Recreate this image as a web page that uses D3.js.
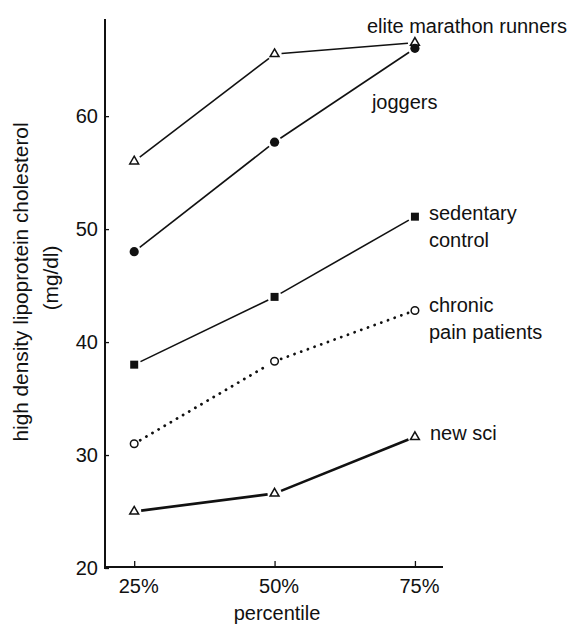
<!DOCTYPE html>
<html>
<head>
<meta charset="utf-8">
<script src="https://cdn.jsdelivr.net/npm/d3@7/dist/d3.min.js"></script>
<style>
  html, body { margin: 0; padding: 0; background: #fff; }
  svg { display: block; }
  text { font-family: "Liberation Sans", Arial, Helvetica, sans-serif; fill: #111; }
</style>
</head>
<body>
<svg id="chart" width="574" height="627"></svg>
<script>
// ---- data ----
const percentiles = [25, 50, 75];
const xTickLabels = ["25%", "50%", "75%"];
const yTicks = [20, 30, 40, 50, 60];
const elite = [56, 65.5, 66.5];
const joggers = [48, 57.7, 66];
const sedentary = [38, 44, 51.1];
const chronic = [31, 38.3, 42.8];
const newSci = [25, 26.6, 31.6];
const seriesNames = ["elite marathon runners", "joggers", "sedentary control", "chronic pain patients", "new sci"];

const series = [
  { values: elite,     marker: "triOpen",  dash: null, width: 1.6, label: ["elite marathon runners"], lx: -48, ly: -10 },
  { values: joggers,   marker: "circle",   dash: null, width: 1.6, label: ["joggers"], lx: -43, ly: 61 },
  { values: sedentary, marker: "square",   dash: null, width: 1.6, label: ["sedentary", "control"], lx: 14, ly: 3 },
  { values: chronic,   marker: "circOpen", dash: "0.1 7", width: 2.8, label: ["chronic", "pain patients"], lx: 14, ly: 2 },
  { values: newSci,    marker: "triOpen",  dash: null, width: 2.6, label: ["new sci"], lx: 15, ly: 3 }
];

const svg = d3.select("#chart");
const x = d3.scaleLinear().domain([19.8, 80]).range([105, 443]);
const y = d3.scaleLinear().domain([20, 68.6]).range([568, 19]);

// ---- axes ----
const yAxis = d3.axisLeft(y).tickValues(yTicks).tickSizeInner(-4).tickSizeOuter(0).tickPadding(7);
const gy = svg.append("g").attr("transform", "translate(105,0)").call(yAxis);
gy.select(".domain").attr("stroke", "#111").attr("stroke-width", 2).attr("d", `M0,${y.range()[1]}V${y.range()[0] + 1}`);
gy.selectAll(".tick line").attr("stroke", "#111").attr("stroke-width", 1.3);
gy.selectAll(".tick text").style("font-size", "20px").style("font-family", "Liberation Sans, Arial, sans-serif").attr("fill", "#111");

const xAxis = d3.axisBottom(x).tickValues(percentiles).tickFormat((d, i) => xTickLabels[i])
  .tickSizeInner(-6).tickSizeOuter(0).tickPadding(12);
const gx = svg.append("g").attr("transform", "translate(0,567)").call(xAxis);
gx.select(".domain").attr("stroke", "#111").attr("stroke-width", 2).attr("d", `M${x.range()[0]},0H${x.range()[1]}`);
gx.selectAll(".tick line").attr("stroke", "#111").attr("stroke-width", 1.3);
gx.selectAll(".tick text").style("font-size", "20px").style("font-family", "Liberation Sans, Arial, sans-serif").attr("fill", "#111").attr("dx", 4);

// axis titles
svg.append("text").attr("x", 277).attr("y", 620).attr("text-anchor", "middle").style("font-size", "20px").text("percentile");
svg.append("text").attr("transform", "translate(28,282) rotate(-90)").attr("text-anchor", "middle").style("font-size", "20.8px")
  .text("high density lipoprotein cholesterol");
svg.append("text").attr("transform", "translate(58,278) rotate(-90)").attr("text-anchor", "middle").style("font-size", "20.8px")
  .text("(mg/dl)");

// ---- series lines (segments shortened near markers) ----
const gap = 7;
series.forEach(s => {
  const pts = percentiles.map((p, i) => [x(p), y(s.values[i])]);
  for (let i = 0; i < pts.length - 1; i++) {
    const [x0, y0] = pts[i], [x1, y1] = pts[i + 1];
    const len = Math.hypot(x1 - x0, y1 - y0);
    const ux = (x1 - x0) / len, uy = (y1 - y0) / len;
    const ln = svg.append("line")
      .attr("x1", x0 + ux * gap).attr("y1", y0 + uy * gap)
      .attr("x2", x1 - ux * gap).attr("y2", y1 - uy * gap)
      .attr("stroke", "#111").attr("stroke-width", s.width);
    if (s.dash) ln.attr("stroke-dasharray", s.dash).attr("stroke-linecap", "round");
  }
});

// ---- markers ----
series.forEach(s => {
  const g = svg.append("g");
  percentiles.forEach((p, i) => {
    const cx = x(p), cy = y(s.values[i]);
    if (s.marker === "triOpen") {
      g.append("path").attr("d", d3.symbol(d3.symbolTriangle, 34)())
        .attr("transform", `translate(${cx},${cy})`)
        .attr("fill", "#fff").attr("stroke", "#111").attr("stroke-width", 1.5);
    } else if (s.marker === "circle") {
      g.append("circle").attr("cx", cx).attr("cy", cy).attr("r", 4.6).attr("fill", "#111");
    } else if (s.marker === "square") {
      g.append("path").attr("d", d3.symbol(d3.symbolSquare, 64)())
        .attr("transform", `translate(${cx},${cy})`).attr("fill", "#111");
    } else if (s.marker === "circOpen") {
      g.append("circle").attr("cx", cx).attr("cy", cy).attr("r", 3.8)
        .attr("fill", "#fff").attr("stroke", "#111").attr("stroke-width", 1.5);
    }
  });
});

// ---- labels ----
series.forEach(s => {
  const lastX = x(percentiles[percentiles.length - 1]);
  const lastY = y(s.values[s.values.length - 1]);
  const t = svg.append("text").attr("x", lastX + s.lx).attr("y", lastY + s.ly).style("font-size", "20px");
  s.label.forEach((line, j) => {
    t.append("tspan").attr("x", lastX + s.lx).attr("dy", j === 0 ? 0 : 27).text(line);
  });
});
</script>
</body>
</html>
